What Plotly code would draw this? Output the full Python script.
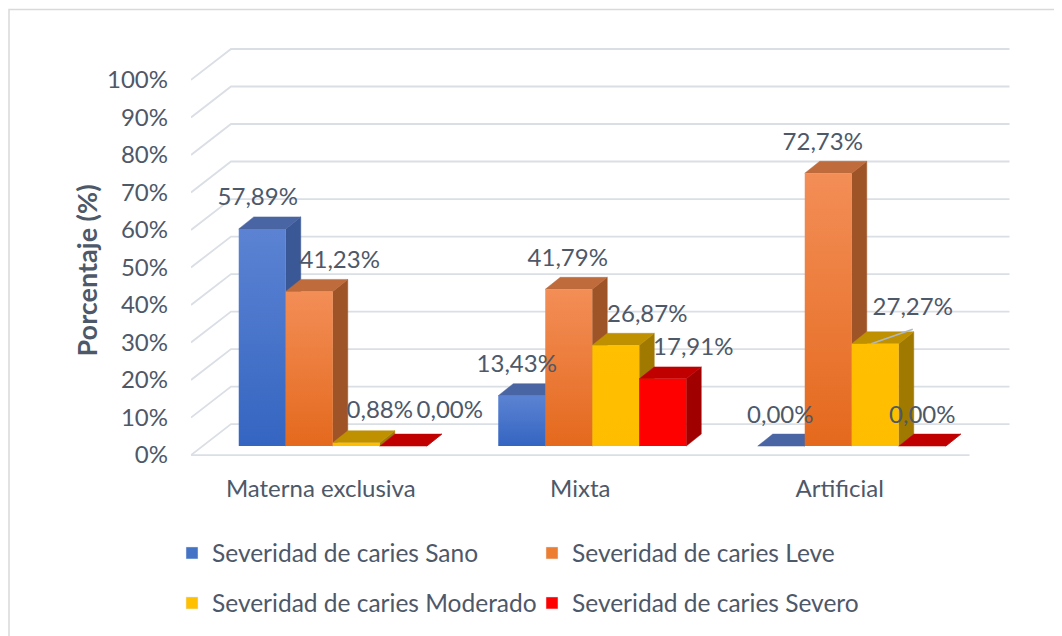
import plotly.graph_objects as go

# ---------------- data ----------------
CATEGORIES = ["Materna exclusiva", "Mixta", "Artificial"]
SERIES = ["Severidad de caries Sano", "Severidad de caries Leve",
          "Severidad de caries Moderado", "Severidad de caries Severo"]
SANO = [57.89, 13.43, 0.00]
LEVE = [41.23, 41.79, 72.73]
MODERADO = [0.88, 26.87, 27.27]
SEVERO = [0.00, 17.91, 0.00]
Y_TICKS = [0, 10, 20, 30, 40, 50, 60, 70, 80, 90, 100]
Y_TICK_LABELS = ["0%", "10%", "20%", "30%", "40%", "50%", "60%", "70%", "80%", "90%", "100%"]
Y_TITLE = "Porcentaje (%)"

VALUES = [SANO, LEVE, MODERADO, SEVERO]

# ---------------- styles ----------------
FONT = "Lato"
TXT = "#4D5869"
FS = 24
FRONT_TOP = ["#5C83D3", "#F38E57", "#FFC000", "#FF0000"]
FRONT_BOT = ["#3465C1", "#E4691D", "#FFBD00", "#FF0000"]
TOP_C = ["#4A65A3", "#BF6B3C", "#BF9000", "#C00000"]
SIDE_C = ["#3A5796", "#9F5427", "#A07A00", "#A00000"]
LEGEND_C = ["#4472C4", "#ED7D31", "#FFC000", "#FF0000"]
GRID_C = "#DADEE5"

# geometry (page pixels of the reference)
PAGE_W, PAGE_H = 1062, 636
OFF = 8               # page body margin in front of the figure
W, H = PAGE_W - OFF, PAGE_H - OFF
PL, PR, PT, PB = 191, 1010, 40, 470
PX_X = 259.5          # px per category step
PX_Y = 3.76           # px per 1 %
Y0_PX = 456           # front floor line
FLOOR_DX, FLOOR_DY = 40, 31
BAR_OFF_X, BAR_OFF_Y = 12, 9
BAR_W = 47
BAR_DX, BAR_DY = 15, 12
LABEL_UP = 29.5
# label nudges in px (x right, y up) per series/category
NUDGE_X = [[-4.5, -5, -1], [30.5, -1, -5.5], [23.5, 31.5, 37.5], [46.5, 30.5, 0]]
NUDGE_Y = [[0, 0, 0], [0, 0, 0], [1, 0, 5], [4.5, 0, 0]]
LEADER = [(2, 2)]     # (series, category) with a leader line


def ux(px):
    return px / PX_X


def uy(px):
    return px / PX_Y


x_rng = [-0.5, -0.5 + ux(PR - PL)]
y_rng = [-uy(PB - Y0_PX), uy(Y0_PX - PT)]

fig = go.Figure()

# back wall / floor grid lines
gx, gy = [], []
fdx, fdy = ux(FLOOR_DX), uy(FLOOR_DY)
n = len(CATEGORIES)
for t in Y_TICKS:
    gx += [-0.5, -0.5 + fdx, n - 0.5 + fdx, None]
    gy += [t, t + fdy, t + fdy, None]
gx += [-0.5, n - 0.5, None]
gy += [0, 0, None]
fig.add_trace(go.Scatter(x=gx, y=gy, mode="lines", line=dict(color=GRID_C, width=1.8),
                         hoverinfo="skip", showlegend=False))

group_w = BAR_W * len(SERIES)
base = uy(BAR_OFF_Y)
bdx, bdy = ux(BAR_DX), uy(BAR_DY)

for j, vals in enumerate(VALUES):
    sx, sy, tx, ty = [], [], [], []
    fronts = []
    for i, v in enumerate(vals):
        xl = i + ux(BAR_OFF_X - group_w / 2 + j * BAR_W)
        xr = xl + ux(BAR_W)
        top = base + v
        sx += [xr, xr + bdx, xr + bdx, xr, xr, None]
        sy += [base, base + bdy, top + bdy, top, base, None]
        tx += [xl, xl + bdx, xr + bdx, xr, xl, None]
        ty += [top, top + bdy, top + bdy, top, top, None]
        fronts.append(([xl, xr, xr, xl, xl], [base, base, top, top, base]))
    fig.add_trace(go.Scatter(x=sx, y=sy, fill="toself", fillcolor=SIDE_C[j], mode="lines",
                             line=dict(color=SIDE_C[j], width=0.5), hoverinfo="skip",
                             showlegend=False))
    fig.add_trace(go.Scatter(x=tx, y=ty, fill="toself", fillcolor=TOP_C[j], mode="lines",
                             line=dict(color=TOP_C[j], width=0.5), hoverinfo="skip",
                             showlegend=False))
    for fx, fy in fronts:
        fig.add_trace(go.Scatter(
            x=fx, y=fy, fill="toself", mode="lines", line=dict(width=0),
            fillgradient=dict(type="vertical",
                              colorscale=[[0, FRONT_BOT[j]], [1, FRONT_TOP[j]]]),
            hoverinfo="skip", showlegend=False))

# data labels
for j, vals in enumerate(VALUES):
    lx, ly, lt = [], [], []
    for i, v in enumerate(vals):
        xc = i + ux(BAR_OFF_X - group_w / 2 + j * BAR_W + BAR_W / 2)
        lx.append(xc + ux(NUDGE_X[j][i]))
        ly.append(base + v + uy(LABEL_UP + NUDGE_Y[j][i]))
        lt.append(f"{v:.2f}".replace(".", ",") + "%")
        if (j, i) in LEADER:
            fig.add_trace(go.Scatter(
                x=[xc - ux(4), lx[-1]], y=[base + v, ly[-1] - uy(20)], mode="lines",
                line=dict(color="#AEB7C4", width=1.5), hoverinfo="skip", showlegend=False))
    fig.add_trace(go.Scatter(x=lx, y=ly, text=lt, mode="text", cliponaxis=False,
                             textfont=dict(family=FONT, size=FS, color=TXT),
                             hoverinfo="skip", showlegend=False))

# legend entries
for j, name in enumerate(SERIES):
    fig.add_trace(go.Bar(x=[None], y=[None], name=name, marker=dict(color=LEGEND_C[j]),
                         legend="legend" if j < 2 else "legend2"))


def paper_x(px):
    return (px - PL) / (PR - PL)


def paper_y(py):
    return (PB - py) / (PB - PT)


legend_common = dict(orientation="h", entrywidth=315, entrywidthmode="pixels",
                     font=dict(family=FONT, size=24.5, color=TXT), bgcolor="rgba(0,0,0,0)",
                     xanchor="left", yanchor="middle", x=paper_x(172))

fig.update_layout(
    width=W, height=H,
    margin=dict(l=PL - OFF, r=PAGE_W - PR, t=PT - OFF, b=PAGE_H - PB),
    paper_bgcolor="white", plot_bgcolor="rgba(0,0,0,0)",
    font=dict(family=FONT, size=FS, color=TXT),
    showlegend=True,
    legend=dict(**legend_common, y=paper_y(553)),
    legend2=dict(**legend_common, y=paper_y(603)),
    xaxis=dict(range=x_rng, showgrid=False, zeroline=False, showline=False,
               tickmode="array", tickvals=list(range(n)), ticktext=CATEGORIES,
               ticks="", ticklabelstandoff=3, fixedrange=True),
    yaxis=dict(range=y_rng, showgrid=False, zeroline=False, showline=False,
               tickmode="array", tickvals=Y_TICKS, ticktext=Y_TICK_LABELS, ticks="",
               ticklabelstandoff=22, fixedrange=True),
    annotations=[dict(text=f"<b>{Y_TITLE}</b>", xref="paper", yref="paper",
                      x=paper_x(86), y=paper_y(271), textangle=-90, showarrow=False,
                      xanchor="center", yanchor="middle",
                      font=dict(family=FONT, size=27, color=TXT))],
    shapes=[dict(type="rect", xref="paper", yref="paper",
                 x0=paper_x(9), x1=paper_x(1200), y0=paper_y(800), y1=paper_y(9.5),
                 line=dict(color="#D9D9D9", width=1.5), layer="below")],
)

fig.write_html("out.html")
